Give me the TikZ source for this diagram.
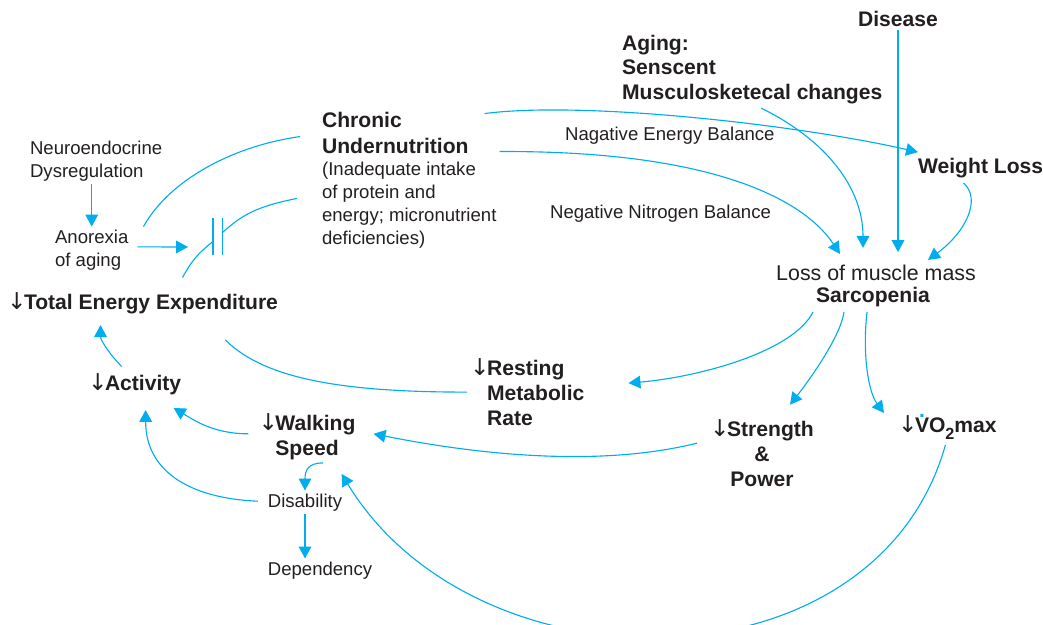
\documentclass[tikz,border=0pt]{standalone}
\usepackage{fontspec}
\setmainfont{Liberation Sans}
\newfontfamily\arrowfont{DejaVu Sans}
\usetikzlibrary{arrows.meta}
\definecolor{linkblue}{HTML}{00AEEF}
\definecolor{inkgray}{HTML}{231F20}
\newcommand{\dwn}{{\arrowfont\mdseries\fontsize{16.5}{16.5}\selectfont ↓}\kern-1.8pt}
\newcommand{\vdot}{\ooalign{V\cr\hidewidth\raisebox{0.7em}{\color{linkblue}.}\hidewidth\cr}}
\newcommand{\subtwo}{\raisebox{-5pt}{\fontsize{11.5}{11.5}\selectfont 2}}
\begin{document}
\begin{tikzpicture}[>={Triangle[length=8.5pt, width=9pt]}, x=0.025cm, y=-0.025cm,
        bodytxt/.style={text=inkgray, inner sep=2pt, font=\fontsize{13.2}{16.4}\selectfont},
        headtxt/.style={text=inkgray, inner sep=2pt, font=\fontsize{15}{17.6}\selectfont\bfseries},
        bareline/.style={draw=linkblue, line width=0.8pt},
        flow/.style={->, draw=linkblue, line width=0.8pt}]
        \useasboundingbox (0, 0) rectangle (1043, 624);
        \clip (0, 0) rectangle (1043, 624);

        % Causes
        \node[headtxt, anchor=base] (disease) at (898, 26.5) {Disease};
        \node[headtxt, anchor=north west, align=left] (aging) at (619, 31.7) {Aging:\\Senscent\\Musculosketecal changes};
        \node[headtxt, anchor=north west, align=left, font=\fontsize{15}{18.5}\selectfont\bfseries] (chronic) at (319, 108.7) {Chronic\\Undernutrition};
        \node[bodytxt, anchor=north west, align=left] (note) at (319, 158.6) {(Inadequate intake\\of protein and\\energy; micronutrient\\deficiencies)};
        \node[bodytxt, anchor=north west, align=left] (neuro) at (27, 137.5) {Neuroendocrine\\Dysregulation};
        \node[bodytxt, anchor=north west, align=left] (anorexia) at (52, 226.6) {Anorexia\\of aging};
        \node[headtxt, anchor=base west] (tee) at (4, 309.5) {\dwn Total Energy Expenditure};
        \coordinate (cut) at (217.5, 236.5);

        % Balance labels
        \node[bodytxt, anchor=base west] (neb) at (562, 140) {Nagative Energy Balance};
        \node[bodytxt, anchor=base west] (nnb) at (547, 218) {Negative Nitrogen Balance};

        % Muscle loss
        \node[headtxt, anchor=base west] (weight) at (915, 173.5) {Weight Loss};
        \node[bodytxt, anchor=base, font=\fontsize{15.2}{18}\selectfont] (musloss) at (876, 280.5) {Loss of muscle mass};
        \node[headtxt, anchor=base] (sarc) at (873, 302.5) {Sarcopenia};

        % Consequences
        \node[headtxt, anchor=north west, align=left] (resting) at (484, 355.7) {\llap{\dwn}Resting\\Metabolic\\Rate};
        \node[headtxt, anchor=base west] (activity) at (85, 390.5) {\dwn Activity};
        \node[headtxt, anchor=north, align=center] (walking) at (307, 410.7) {\dwn Walking\\Speed};
        \node[headtxt, anchor=north, align=center] (strength) at (762, 416.7) {\dwn Strength\\\&\\Power};
        \node[headtxt, anchor=base west] (vo2) at (895, 432) {\dwn\vdot O\subtwo max};
        \node[bodytxt, anchor=base] (disab) at (305, 507) {Disability};
        \node[bodytxt, anchor=base] (depend) at (320, 575) {Dependency};

        % Intake side
        \draw[flow] (neuro.south -| anorexia.north) -- (anorexia.north);
        \draw[flow] ([shift={(6,-3)}]anorexia.east) -- ([shift={(-29.5,10.5)}]cut);
        \draw[bareline] ([shift={(12,0)}]anorexia.north east) .. controls +(25,-45) and +(-70,10) .. ([shift={(-19,4)}]chronic.west);
        \draw[bareline] ([shift={(-4.5,-18.5)}]cut) -- ([shift={(-4.5,18.5)}]cut)
            ([shift={(5,-18.5)}]cut) -- ([shift={(5,18.5)}]cut);
        \draw[bareline] ([shift={(40,-12)}]tee.north) .. controls +(10,-18) and +(-15,12) .. ([shift={(-4.5,5)}]cut);
        \draw[bareline] ([shift={(5,-4)}]cut) .. controls +(20,-18) and +(-40,8) .. ([shift={(-22,-6.5)}]note.west);

        % Into sarcopenia
        \draw[flow] ([shift={(13,-19)}]chronic.east) .. controls +(100,-13) and +(-118,-27) .. ([shift={(3,-3)}]weight.north west);
        \draw[flow] ([shift={(28,19)}]chronic.east) .. controls +(200,-1) and +(-40,-60) .. ([shift={(-36,-8)}]musloss.north);
        \draw[flow] ([shift={(9,1)}]aging.south) .. controls +(65,32) and +(0,-60) .. ([shift={(-13,-14)}]musloss.north);
        \draw[flow, shorten >=7pt] (disease.south) -- (disease.south |- musloss.north);
        \draw[flow] ([shift={(-17,2)}]weight.south) .. controls +(18,16) and +(38,-28) .. ([shift={(52,-2)}]musloss.north);

        % Out of sarcopenia
        \draw[flow] ([shift={(-60,2)}]sarc.south) .. controls +(-20,40) and +(70,-6) .. ([shift={(41,-9)}]resting.east);
        \draw[flow] ([shift={(-29,2)}]sarc.south) .. controls +(-3,22) and +(25,-32) .. ([shift={(28,-12)}]strength.north);
        \draw[flow] ([shift={(-6,2)}]sarc.south) .. controls +(-5,45) and +(-15,-20) .. ([shift={(-11,1)}]vo2.north west);

        % Activity loop
        \draw[bareline] ([shift={(83,23)}]tee.south) .. controls +(40,40) and +(-120,0) .. ([shift={(-17,0)}]resting.west);
        \draw[flow] ([shift={(-13,-4)}]activity.north) .. controls +(-12,-12) and +(0,15) .. ([shift={(-42,8)}]tee.south);
        \draw[flow] ([shift={(-7,-3)}]walking.west) .. controls +(-35,0) and +(20,12) .. ([shift={(39,10)}]activity.south);
        \draw[flow] ([shift={(-7,-1)}]disab.west) .. controls +(-70,-3) and +(0,60) .. ([shift={(11,12)}]activity.south);
        \draw[flow] ([shift={(16,0)}]walking.south) .. controls +(-15,0) and +(0,-20) .. (disab.north);
        \draw[flow] (disab.south) -- (disab.south |- depend.north);
        \draw[flow] ([shift={(-10,-10)}]strength.west) .. controls +(-100,25) and +(100,20) .. ([shift={(15,-3)}]walking.east);
        \draw[flow] ([shift={(-2,13)}]vo2.base) .. controls +(-70,249) and +(135,222) .. ([shift={(-17,11)}]walking.south east);
    \end{tikzpicture}
\end{document}
